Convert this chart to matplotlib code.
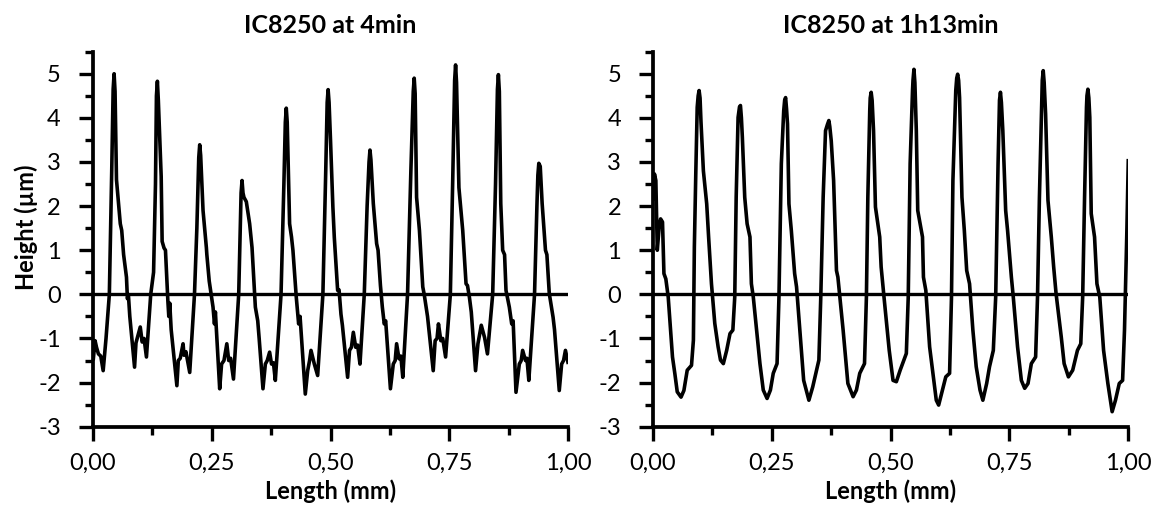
import matplotlib
matplotlib.use("Agg")
import matplotlib.pyplot as plt
from matplotlib.ticker import MultipleLocator, FuncFormatter

plt.rcParams['font.family'] = ['Lato', 'DejaVu Sans']
plt.rcParams['axes.unicode_minus'] = False

# ---- data: left panel (IC8250 at 4min) ----
x_4min = [0.001, 0.005, 0.008, 0.012, 0.017, 0.022, 0.028, 0.035, 0.040, 0.043, 0.045, 0.047, 0.050,
          0.058, 0.061, 0.065, 0.071, 0.073, 0.075, 0.078, 0.088, 0.091, 0.100, 0.104, 0.108, 0.113,
          0.122, 0.128, 0.132, 0.134, 0.136, 0.138, 0.141, 0.144, 0.146, 0.150, 0.153, 0.158, 0.160,
          0.162, 0.165, 0.177, 0.180, 0.184, 0.190, 0.192, 0.196, 0.204,
          0.214, 0.219, 0.223, 0.225, 0.227, 0.232, 0.239, 0.240, 0.245, 0.253, 0.256, 0.258, 0.267,
          0.271, 0.276, 0.282, 0.286, 0.290, 0.296,
          0.307, 0.312, 0.314, 0.316, 0.318, 0.323, 0.330, 0.335, 0.342, 0.347, 0.350, 0.358, 0.363,
          0.367, 0.372, 0.376, 0.380, 0.384,
          0.396, 0.402, 0.405, 0.407, 0.409, 0.411, 0.414, 0.418, 0.421, 0.428, 0.433, 0.436, 0.447,
          0.452, 0.456, 0.459, 0.466, 0.473,
          0.484, 0.490, 0.493, 0.495, 0.497, 0.500, 0.505, 0.508, 0.515, 0.518, 0.522, 0.525, 0.536,
          0.540, 0.544, 0.548, 0.553, 0.557, 0.562,
          0.571, 0.577, 0.581, 0.583, 0.585, 0.590, 0.597, 0.600, 0.605, 0.609, 0.613, 0.616, 0.626,
          0.632, 0.636, 0.639, 0.644, 0.648, 0.652,
          0.662, 0.669, 0.674, 0.676, 0.678, 0.681, 0.687, 0.694, 0.697, 0.700, 0.704, 0.716, 0.720,
          0.724, 0.727, 0.732, 0.736, 0.742,
          0.752, 0.757, 0.761, 0.763, 0.765, 0.770, 0.778, 0.785, 0.788, 0.792, 0.796, 0.805, 0.810,
          0.817, 0.824, 0.830,
          0.841, 0.847, 0.851, 0.853, 0.855, 0.858, 0.862, 0.866, 0.869, 0.876, 0.881, 0.884, 0.890,
          0.897, 0.901, 0.904, 0.910, 0.913, 0.917,
          0.929, 0.934, 0.936, 0.938, 0.941, 0.945, 0.952, 0.955, 0.960, 0.968, 0.971, 0.981, 0.986,
          0.990, 0.994, 1.000]
y_4min = [-1.50, -1.05, -1.20, -1.35, -1.40, -1.73, -1.00, 0.00, 2.80, 4.65, 5.00, 4.60, 2.60,
          1.60, 1.45, 0.90, 0.39, -0.10, 0.00, -0.50, -1.65, -1.10, -0.74, -1.08, -1.00, -1.42,
          0.00, 0.50, 2.50, 4.50, 4.83, 4.40, 3.50, 2.67, 1.20, 1.05, 1.00, -0.14, -0.50,
          -0.20, -0.80, -2.07, -1.50, -1.45, -1.12, -1.38, -1.30, -1.77,
          0.00, 1.50, 3.10, 3.39, 3.15, 1.90, 1.06, 0.90, 0.30, -0.29, -0.67, -0.40, -2.14,
          -1.58, -1.50, -1.12, -1.50, -1.45, -1.92,
          0.00, 2.30, 2.58, 2.30, 2.20, 2.10, 1.60, 1.06, -0.29, -0.60, -1.00, -2.14, -1.58,
          -1.50, -1.31, -1.58, -1.55, -1.95,
          0.00, 2.50, 3.90, 4.22, 3.90, 3.00, 1.60, 1.30, 1.00, -0.06, -0.67, -0.50, -2.26,
          -1.73, -1.50, -1.27, -1.58, -1.84,
          0.00, 2.80, 4.35, 4.64, 4.35, 3.50, 1.98, 1.29, 0.09, 0.10, -0.45, -0.70, -1.88,
          -1.27, -1.20, -0.86, -1.20, -1.15, -1.58,
          0.00, 2.00, 3.00, 3.27, 3.05, 2.06, 1.15, 1.00, 0.20, -0.29, -0.67, -0.60, -2.14,
          -1.58, -1.50, -1.12, -1.46, -1.40, -1.88,
          0.00, 2.80, 4.60, 4.90, 4.55, 2.20, 1.45, 0.17, 0.00, -0.21, -0.50, -1.73, -1.05,
          -1.00, -0.67, -1.05, -1.00, -1.42,
          0.00, 2.60, 4.85, 5.20, 4.80, 2.42, 1.45, 0.24, 0.20, -0.06, -0.40, -1.73, -1.12,
          -0.70, -0.98, -1.35,
          0.00, 2.50, 4.65, 4.98, 4.60, 2.06, 1.00, 0.90, 0.09, -0.29, -0.67, -0.60, -2.22,
          -1.58, -1.50, -1.27, -1.50, -1.45, -1.95,
          0.00, 2.00, 2.70, 2.97, 2.90, 2.06, 1.00, 0.90, 0.02, -0.52, -0.80, -2.18, -1.58,
          -1.50, -1.27, -1.58]

# ---- data: right panel (IC8250 at 1h13min) ----
x_1h13 = [0.001, 0.003, 0.006, 0.009, 0.013, 0.016, 0.020, 0.023, 0.027, 0.032, 0.041, 0.046,
          0.051, 0.059, 0.065, 0.072, 0.081, 0.085, 0.087, 0.090,
          0.093, 0.095, 0.097, 0.099, 0.101, 0.106, 0.113, 0.117, 0.123, 0.130, 0.137, 0.142,
          0.148, 0.155, 0.162, 0.168, 0.172, 0.175,
          0.179, 0.182, 0.184, 0.186, 0.188, 0.193, 0.198, 0.204, 0.207, 0.211, 0.218, 0.225,
          0.232, 0.240, 0.247, 0.253, 0.261, 0.265, 0.270,
          0.275, 0.277, 0.279, 0.281, 0.283, 0.286, 0.291, 0.298, 0.302, 0.309, 0.317, 0.328,
          0.336, 0.344, 0.349, 0.353, 0.358,
          0.363, 0.367, 0.370, 0.372, 0.375, 0.380, 0.386, 0.389, 0.400, 0.410, 0.421, 0.428,
          0.435, 0.445, 0.449, 0.452, 0.456,
          0.457, 0.459, 0.461, 0.464, 0.468, 0.477, 0.480, 0.486, 0.497, 0.505, 0.512, 0.520,
          0.533, 0.537, 0.541, 0.546,
          0.547, 0.549, 0.551, 0.554, 0.557, 0.567, 0.569, 0.574, 0.582, 0.589, 0.596, 0.601,
          0.609, 0.616, 0.624, 0.628, 0.631, 0.637,
          0.639, 0.641, 0.643, 0.645, 0.650, 0.655, 0.660, 0.666, 0.673, 0.680, 0.688, 0.694,
          0.702, 0.708, 0.716, 0.721, 0.726,
          0.729, 0.731, 0.733, 0.736, 0.742, 0.746, 0.754, 0.758, 0.767, 0.775, 0.782, 0.789,
          0.796, 0.805, 0.809, 0.813, 0.818,
          0.819, 0.821, 0.823, 0.826, 0.831, 0.838, 0.843, 0.848, 0.859, 0.865, 0.874, 0.883,
          0.893, 0.900, 0.904, 0.908, 0.912,
          0.913, 0.915, 0.917, 0.919, 0.922, 0.929, 0.934, 0.940, 0.948, 0.957, 0.966, 0.973,
          0.981, 0.988, 0.992, 0.997, 1.000]
y_1h13 = [2.13, 2.73, 2.58, 1.00, 1.53, 1.71, 1.64, 0.47, 0.35, -0.06, -1.42, -1.80,
          -2.21, -2.33, -2.18, -1.72, -1.61, -1.04, 1.07, 2.73,
          4.24, 4.50, 4.62, 4.45, 3.90, 2.80, 2.05, 1.30, 0.24, -0.66, -1.19, -1.49,
          -1.57, -1.27, -0.89, -0.81, -0.06, 2.20,
          4.01, 4.25, 4.28, 4.00, 3.56, 2.20, 1.60, 1.30, 0.24, -0.06, -0.81, -1.57,
          -2.17, -2.36, -2.17, -1.79, -1.57, -0.06, 2.96,
          4.16, 4.40, 4.46, 4.20, 3.86, 2.05, 1.45, 0.47, 0.17, -0.81, -1.95, -2.40,
          -2.10, -1.72, -1.49, -0.06, 2.20,
          3.71, 3.85, 3.94, 3.80, 3.48, 2.58, 0.54, 0.39, -0.81, -2.02, -2.32, -2.17,
          -1.79, -1.57, -0.06, 2.20, 4.16,
          4.45, 4.58, 4.40, 3.71, 1.98, 1.30, 0.62, -0.06, -1.27, -1.95, -1.98, -1.72,
          -1.34, -0.06, 2.96, 4.62,
          4.85, 5.10, 4.80, 3.71, 1.90, 1.30, 0.39, 0.09, -1.19, -1.79, -2.40, -2.51,
          -2.17, -1.87, -1.79, -0.06, 2.58, 4.62,
          4.90, 4.99, 4.85, 4.46, 2.20, 1.45, 0.54, 0.24, -0.81, -1.64, -2.17, -2.40,
          -2.02, -1.64, -1.27, -0.06, 2.96,
          4.40, 4.58, 4.35, 3.71, 1.90, 1.45, 0.39, -0.06, -1.19, -1.95, -2.13, -2.02,
          -1.57, -1.42, -0.06, 2.20, 4.46,
          4.85, 5.07, 4.80, 4.09, 2.13, 1.30, 0.62, 0.02, -0.97, -1.57, -1.87, -1.72,
          -1.27, -1.12, -0.06, 2.20, 4.24,
          4.50, 4.65, 4.45, 4.01, 1.83, 1.30, 0.24, -0.06, -1.27, -2.02, -2.66, -2.40,
          -2.02, -1.95, -0.81, 1.45, 3.07]

titles = ["IC8250 at 4min", "IC8250 at 1h13min"]
x_label = "Length (mm)"
y_label = "Height (µm)"
x_ticks = [0.0, 0.25, 0.5, 0.75, 1.0]
y_ticks = [-3, -2, -1, 0, 1, 2, 3, 4, 5]

assert len(x_4min) == len(y_4min) and len(x_1h13) == len(y_1h13)

W, H = 1162, 507
fig = plt.figure(figsize=(W / 100, H / 100), dpi=100)

axes_px = [(92.7, 568.3), (653.0, 1128.3)]
ybot, ytop = 426.7, 51.7

def comma_fmt(v, pos):
    return f"{v:.2f}".replace(".", ",")

for i, (xs, ys) in enumerate([(x_4min, y_4min), (x_1h13, y_1h13)]):
    l, r = axes_px[i]
    ax = fig.add_axes([l / W, (H - ybot) / H, (r - l) / W, (ybot - ytop) / H])
    ax.plot(xs, ys, color='black', lw=2.6, solid_joinstyle='round', solid_capstyle='butt')
    ax.axhline(0, color='black', lw=2.4)
    ax.set_xlim(0, 1)
    ax.set_ylim(-3, 5.5)
    for s in ['top', 'right']:
        ax.spines[s].set_visible(False)
    for s in ['left', 'bottom']:
        ax.spines[s].set_linewidth(2.7)
    ax.set_xticks(x_ticks)
    ax.xaxis.set_major_formatter(FuncFormatter(comma_fmt))
    ax.xaxis.set_minor_locator(MultipleLocator(0.125))
    ax.set_yticks(y_ticks)
    ax.yaxis.set_minor_locator(MultipleLocator(0.5))
    ax.tick_params(which='major', length=10, width=2.4, labelsize=17, direction='out')
    ax.tick_params(which='minor', length=5.5, width=2.4, direction='out')
    ax.tick_params(axis='x', which='major', pad=9)
    ax.tick_params(axis='y', which='major', pad=13)
    ax.set_title(titles[i], fontsize=18, fontweight='bold', pad=13.5)
    ax.set_xlabel(x_label, fontsize=17, fontweight='bold', labelpad=4)
    if i == 0:
        ax.set_ylabel(y_label, fontsize=17, fontweight='bold')
        ax.yaxis.set_label_coords(-0.1155, 0.531)

fig.savefig("out.png", dpi=100)
